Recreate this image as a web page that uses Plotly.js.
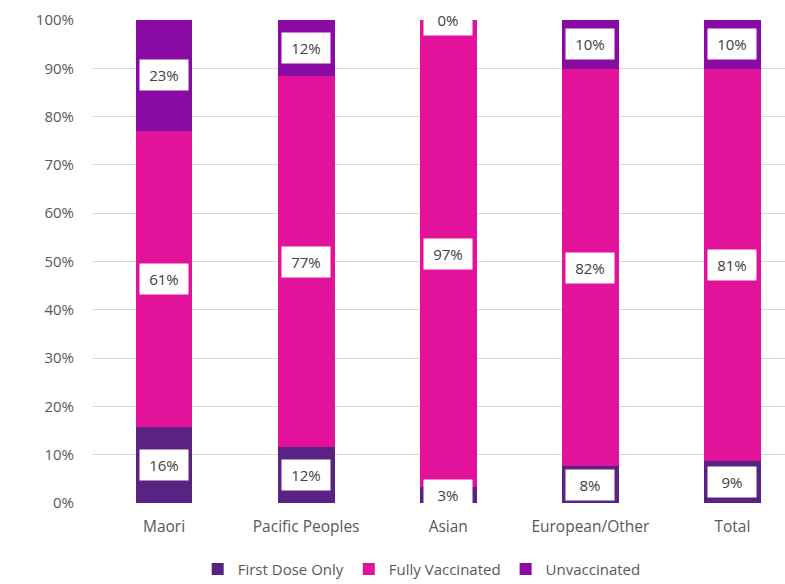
<!DOCTYPE html>
<html>
<head>
<meta charset="utf-8">
<script src="https://cdn.plot.ly/plotly-3.0.1.min.js"></script>
<style>html,body{margin:0;padding:0;background:#fff;}#chart{width:785px;height:584px;}</style>
</head>
<body>
<div id="chart"></div>
<script>
var categories = ["Maori", "Pacific Peoples", "Asian", "European/Other", "Total"];
var firstDose = [15.7, 11.6, 3.3, 7.6, 8.7];
var fullyVaccinated = [61.4, 76.8, 96.6, 82.3, 81.2];
var unvaccinated = [22.9, 11.6, 0.1, 10.1, 10.1];
var seriesNames = ["First Dose Only", "Fully Vaccinated", "Unvaccinated"];
var seriesColors = ["#5a2283", "#e2129a", "#8a0ba3"];
var yTickVals = [0, 10, 20, 30, 40, 50, 60, 70, 80, 90, 100];
var yTickText = yTickVals.map(function(v){ return v + "%"; });

var series = [firstDose, fullyVaccinated, unvaccinated];
var font = "'Open Sans', 'Liberation Sans', sans-serif";

var traces = series.map(function(vals, i){
  return {
    type: "bar",
    name: seriesNames[i],
    x: categories,
    y: vals,
    width: 0.4,
    marker: {color: seriesColors[i]},
    hoverinfo: "skip"
  };
});

var annotations = [];
categories.forEach(function(c, j){
  var base = 0;
  series.forEach(function(vals){
    var v = vals[j];
    annotations.push({
      x: c, y: base + v / 2, xref: "x", yref: "y",
      text: Math.round(v) + "%",
      showarrow: false,
      bgcolor: "#ffffff",
      width: 46, height: 28,
      font: {family: font, size: 15, color: "#404040"}
    });
    base += v;
  });
});

var layout = {
  width: 785, height: 584,
  margin: {l: 93, r: 0, t: 20, b: 81, autoexpand: false},
  paper_bgcolor: "#ffffff",
  plot_bgcolor: "#ffffff",
  barmode: "stack",
  showlegend: true,
  legend: {
    orientation: "h", x: 0.475, xanchor: "center", y: -0.137, yanchor: "middle",
    font: {family: font, size: 15, color: "#595959"},
    itemwidth: 30, traceorder: "normal"
  },
  xaxis: {
    type: "category",
    range: [-0.5, 4.37],
    showgrid: false, zeroline: false, showline: false,
    ticks: "",
    ticklabelstandoff: 12,
    tickfont: {family: font, size: 15.5, color: "#595959"},
    fixedrange: true
  },
  yaxis: {
    range: [0, 100],
    tickvals: yTickVals, ticktext: yTickText,
    showgrid: true, gridcolor: "#d9d9d9", gridwidth: 1,
    zeroline: false, showline: false, ticks: "",
    ticklabelstandoff: 18,
    tickfont: {family: font, size: 15, color: "#595959"},
    fixedrange: true
  },
  annotations: annotations
};

Plotly.newPlot("chart", traces, layout, {displayModeBar: false, staticPlot: true});
</script>
</body>
</html>
